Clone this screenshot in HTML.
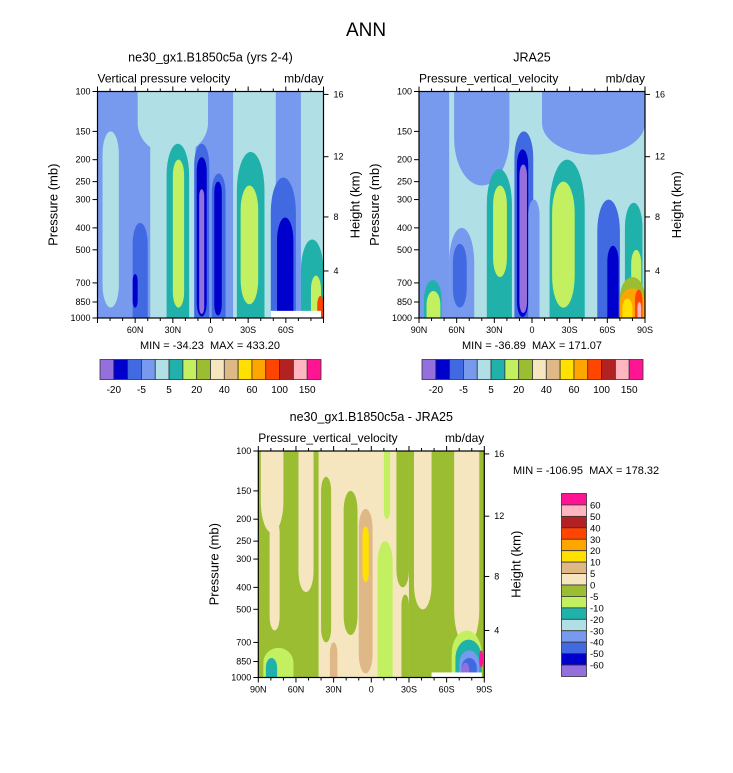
<!DOCTYPE html>
<html><head><meta charset="utf-8">
<style>
body{margin:0;background:#fff;}
svg{display:block;font-family:"Liberation Sans",Arial,sans-serif;}
</style></head>
<body>
<svg id="fig" width="733" height="773" viewBox="0 0 733 773" xmlns="http://www.w3.org/2000/svg">
<text x="366" y="36" font-size="19" text-anchor="middle">ANN</text>
<g id="root"></g>
</svg>
<script>
// ---- data ----
const colors = ["#9370DB","#0000CD","#4169E1","#7799EE","#B0E0E6","#20B2AA","#C2F060","#9ABD32","#F5E6C0","#DEB887","#FFE000","#FFA500","#FF4500","#B22222","#FFB6C1","#FF1493"];
const topCbarLabels = ["-20","-5","5","20","40","60","100","150"];
const diffCbarLabels = ["60","50","40","30","20","10","5","0","-5","-10","-20","-30","-40","-50","-60"];
const pTicks = [100,150,200,250,300,400,500,700,850,1000];
const heightLabels = ["16","12","8","4"];
const heightPress = [103,194,358,620];
const latTicks = [90,60,30,0,-30,-60,-90];
const latLabels = ["90N","60N","30N","0","30S","60S","90S"];
// blobs: [latNorth, latSouth, pTop, pBottom, colorIndex]
const blobsModel = [
 [86,73,150,900,4],[58,2,100,190,4],[48,12,100,1000,4],[-18,-52,100,1000,4],[-72,-90,100,1000,4],
 [62,50,380,1000,2],[62,58,640,900,1],
 [35,17,170,1000,5],[30,21,200,900,6],
 [13,1,170,1000,2],[11,3,195,985,1],[9,5,270,960,0],
 [-1,-12,230,1000,2],[-3,-9,250,975,1],
 [-21,-43,185,1000,5],[-24,-38,260,870,6],
 [-48,-68,240,1000,2],[-53,-66,360,1000,1],
 [-72,-90,450,1000,5],[-80,-88,650,1000,6],[-85,-90,800,1000,12]
];
const blobsObs = [
 [90,66,100,1000,3],[62,18,100,260,3],[-8,-90,100,190,3],[66,46,400,1000,3],[63,52,470,900,2],
 [14,-1,150,1000,2],[12,3,180,990,1],[10,4,210,950,0],[3,-6,300,1000,3],
 [36,16,220,1000,5],[31,20,260,660,6],
 [-14,-42,200,1000,5],[-16,-34,250,900,6],
 [-52,-70,300,1000,2],[-60,-69,480,1000,1],
 [-74,-88,310,1000,5],[-79,-87,500,1000,6],
 [-70,-90,660,1000,7],[-70,-90,740,1000,11],[-72,-80,820,1000,10],[-82,-88,750,1000,12],[-84,-87,850,1000,14],
 [86,72,680,1000,5],[84,73,760,1000,6]
];
const blobsDiff = [
 [88,70,100,230,8],[81,73,200,620,8],[58,46,100,420,8],[42,-30,100,1000,8],[-34,-48,100,500,8],[-66,-86,100,720,8],
 [22,11,150,650,7],[40,32,130,700,7],[-20,-30,100,400,7],[-24,-30,430,1000,7],
 [-5,-17,250,1000,6],[-10,-15,100,200,6],
 [10,-1,180,960,9],[7,2,215,380,10],[33,27,700,1000,9],
 [86,62,740,1000,6],[84,75,820,1000,5],
 [-64,-88,620,1000,6],[-67,-88,680,1000,5],[-70,-86,760,1000,3],[-72,-84,820,1000,2],[-72,-78,860,1000,0],[-86,-89,760,900,15]
];

const NS="http://www.w3.org/2000/svg";
const root=document.getElementById('root');
function mk(tag,attrs,parent){const e=document.createElementNS(NS,tag);for(const k in attrs)e.setAttribute(k,attrs[k]);(parent||root).appendChild(e);return e;}

function blobPath(x1,x2,y1,y2,roundTop,roundBot){
  const w=x2-x1,h=y2-y1,rx=w/2;
  const ry=Math.min(w*1.4,h/2);
  let d='';
  if(roundTop){d+=`M${x1},${y1+ry} A${rx},${ry} 0 0 1 ${x2},${y1+ry} `;}
  else{d+=`M${x1},${y1} L${x2},${y1} `;}
  if(roundBot){d+=`L${x2},${y2-ry} A${rx},${ry} 0 0 1 ${x1},${y2-ry} Z`;}
  else{d+=`L${x2},${y2} L${x1},${y2} Z`;}
  return d;
}

function panel(o){
  const g=mk('g',{});
  
  
  const W=226,H=226.5;
  const xs=lat=>o.x0+(90-lat)/180*W;
  const ys=p=>o.y0+Math.log10(p/100)*H;
  const cid='clip'+o.name;
  const cp=mk('clipPath',{id:cid},g);mk('rect',{x:o.x0,y:o.y0,width:W,height:H},cp);
  const fld=mk('g',{'clip-path':'url(#'+cid+')'},g);
  mk('rect',{x:o.x0,y:o.y0,width:W,height:H,fill:colors[o.bg]},fld);
  o.blobs.forEach(b=>{
    const x1=xs(b[0]),x2=xs(b[1]),y1=ys(b[2]),y2=ys(b[3]);
    const r=mk('path',{d:blobPath(x1,x2,y1,y2,b[2]>100,b[3]<1000),fill:colors[b[4]]},fld);
    
    
  });
  if(o.mask){mk('rect',{x:xs(-48),y:ys(o.mask),width:xs(-88)-xs(-48),height:ys(1000)-ys(o.mask),fill:'#fff'},fld);}
  mk('rect',{x:o.x0,y:o.y0,width:W,height:H,fill:'none',stroke:'#000','stroke-width':1.2},g);
  for(let l=-90;l<=90;l+=10){
    const major=l%30===0;const len=major?5:3;
    mk('line',{x1:xs(l),x2:xs(l),y1:o.y0+H,y2:o.y0+H+len,stroke:'#000'},g);
    mk('line',{x1:xs(l),x2:xs(l),y1:o.y0,y2:o.y0-len,stroke:'#000'},g);
  }
  latTicks.forEach((l,i)=>{
    if(o.noEnds&&(l===90||l===-90))return;
    const t=mk('text',{x:xs(l),y:o.y0+H+15,'font-size':9,'text-anchor':'middle'},g);t.textContent=latLabels[i];
    
  });
  pTicks.forEach(p=>{
    mk('line',{x1:o.x0-5,x2:o.x0,y1:ys(p),y2:ys(p),stroke:'#000'},g);
    const t=mk('text',{x:o.x0-7,y:ys(p)+3,'font-size':9,'text-anchor':'end'},g);t.textContent=p;
    
  });
  heightPress.forEach((p,i)=>{
    mk('line',{x1:o.x0+W,x2:o.x0+W+5,y1:ys(p),y2:ys(p),stroke:'#000'},g);
    const t=mk('text',{x:o.x0+W+10,y:ys(p)+3,'font-size':9},g);t.textContent=heightLabels[i];
    
  });
  let t=mk('text',{x:o.x0+W/2,y:o.y0-30,'font-size':12.5,'text-anchor':'middle'},g);t.textContent=o.title;
  
  t=mk('text',{x:o.x0,y:o.y0-9,'font-size':12},g);t.textContent=o.var;
  
  t=mk('text',{x:o.x0+W,y:o.y0-9,'font-size':12,'text-anchor':'end'},g);t.textContent='mb/day';
  
  t=mk('text',{x:0,y:0,'font-size':13,'text-anchor':'middle',transform:`translate(${o.x0-40},${o.y0+H/2}) rotate(-90)`},g);t.textContent='Pressure (mb)';
  
  t=mk('text',{x:0,y:0,'font-size':13,'text-anchor':'middle',transform:`translate(${o.x0+W+36},${o.y0+H/2}) rotate(-90)`},g);t.textContent='Height (km)';
  
  if(o.minmax){
    t=mk('text',{x:o.mmx,y:o.mmy,'font-size':11,'text-anchor':o.mma},g);t.textContent=o.minmax;
    
  }
}
function hcbar(x0,name){
  const g=mk('g',{});
  
  
  const w=221/16;
  colors.forEach((c,i)=>{const r=mk('rect',{x:x0+i*w,y:359.5,width:w,height:20,fill:c,stroke:'#333','stroke-width':0.8},g);
    });
  topCbarLabels.forEach((l,i)=>{const t=mk('text',{x:x0+(2*i+1)*w,y:393,'font-size':10,'text-anchor':'middle'},g);t.textContent=l;
    });
}
panel({name:'model-panel',x0:97.5,y0:91.5,bg:3,blobs:blobsModel,mask:930,noEnds:true,title:'ne30_gx1.B1850c5a (yrs 2-4)',var:'Vertical pressure velocity',minmax:'MIN = -34.23\u00a0\u00a0MAX = 433.20',mmx:210,mmy:349,mma:'middle'});
panel({name:'obs-panel',x0:419,y0:91.5,bg:4,blobs:blobsObs,title:'JRA25',var:'Pressure_vertical_velocity',minmax:'MIN = -36.89\u00a0\u00a0MAX = 171.07',mmx:532,mmy:349,mma:'middle'});
panel({name:'diff-panel',x0:258.3,y0:451,bg:7,blobs:blobsDiff,mask:950,title:'ne30_gx1.B1850c5a - JRA25',var:'Pressure_vertical_velocity',minmax:'MIN = -106.95\u00a0\u00a0MAX = 178.32',mmx:513,mmy:474,mma:'start'});
hcbar(100,'model-colorbar');
hcbar(422,'obs-colorbar');
(function(){
  const g=mk('g',{});
  
  
  const h=183/16,y0=493.5;
  for(let i=0;i<16;i++){const r=mk('rect',{x:561.5,y:y0+i*h,width:25,height:h,fill:colors[15-i],stroke:'#333','stroke-width':0.8},g);
    }
  diffCbarLabels.forEach((l,i)=>{const t=mk('text',{x:590,y:y0+(i+1)*h+3.5,'font-size':9.5},g);t.textContent=l;
    });
})();
</script>
</body></html>
